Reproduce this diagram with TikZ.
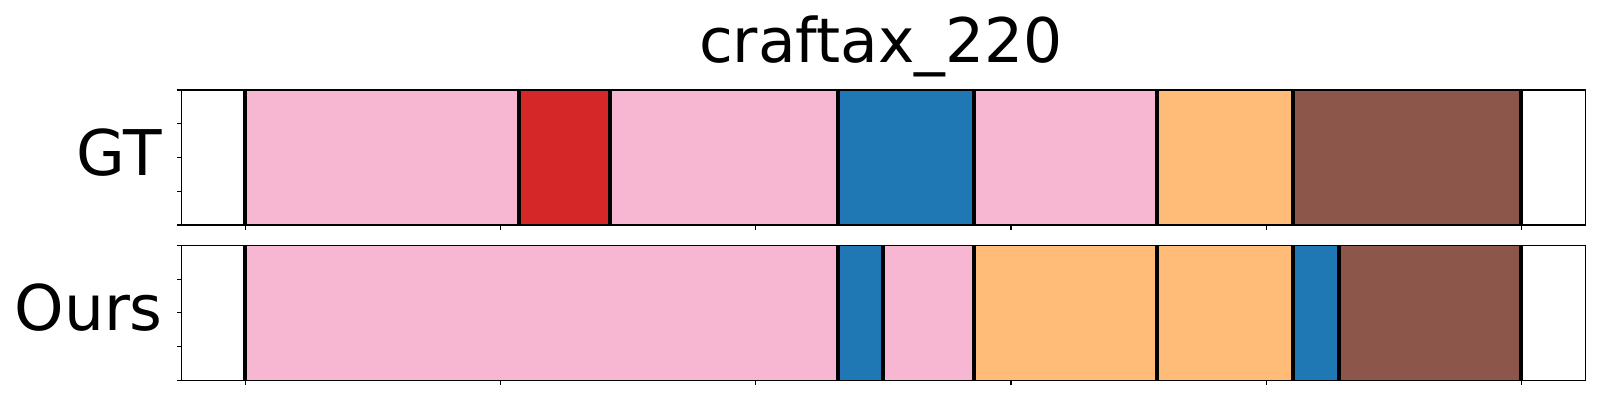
\documentclass[tikz,border=0pt]{standalone}
\usepackage{fontspec}
\setmainfont{DejaVu Sans}
\definecolor{cpink}{HTML}{F7B6D2}
\definecolor{cred}{HTML}{D62728}
\definecolor{cblue}{HTML}{1F77B4}
\definecolor{corange}{HTML}{FFBB78}
\definecolor{cbrown}{HTML}{8C564B}
\tikzset{
  seg/.style={fill=#1, draw=#1!85!black, line width=0.6pt},
  bound/.style={line width=4pt, black},
  spine/.style={line width=1.4pt, black},
  tick/.style={line width=1.1pt, black},
  lbl/.style={inner sep=0pt, anchor=base east, font=\fontsize{63}{70}\selectfont},
}
\begin{document}
\begin{tikzpicture}[x=1pt,y=-1pt]
\useasboundingbox (0,0) rectangle (1600,400);
% title
\node[inner sep=0pt, anchor=base, font=\fontsize{61.5}{70}\selectfont] (title) at (881,62) {craftax\_220};
% row labels
\node[lbl] (gt) at (162,175) {GT};
\node[lbl] (ours) at (163,330) {Ours};
% GT row (y 90..225)
\def\ta{90}\def\tb{225}
\fill[seg=cpink]   (244.7,\ta) rectangle (519,\tb);
\fill[seg=cred]    (519,\ta) rectangle (609.7,\tb);
\fill[seg=cpink]   (609.7,\ta) rectangle (837.7,\tb);
\fill[seg=cblue]   (837.7,\ta) rectangle (973.7,\tb);
\fill[seg=cpink]   (973.7,\ta) rectangle (1157,\tb);
\fill[seg=corange] (1157,\ta) rectangle (1293,\tb);
\fill[seg=cbrown]  (1293,\ta) rectangle (1520.7,\tb);
\foreach \x in {244.7,519,609.7,837.7,973.7,1157,1293,1520.7}
  \draw[bound] (\x,\ta) -- (\x,\tb);
\draw[spine] (181.3,\ta) rectangle (1585.7,\tb);
\foreach \y in {90,123.75,157.5,191.25,225}
  \draw[tick] (181.3,\y) -- (176.5,\y);
\foreach \x in {245.7,500.8,755.9,1011,1266.1,1521.2}
  \draw[tick] (\x,\tb) -- (\x,\tb+4.8);
% Ours row (y 245.3..380.3)
\def\ba{245.3}\def\bb{380.3}
\fill[seg=cpink]   (244.7,\ba) rectangle (837.7,\bb);
\fill[seg=cblue]   (837.7,\ba) rectangle (882.7,\bb);
\fill[seg=cpink]   (882.7,\ba) rectangle (973.7,\bb);
\fill[seg=corange] (973.7,\ba) rectangle (1157,\bb);
\fill[seg=corange] (1157,\ba) rectangle (1293,\bb);
\fill[seg=cblue]   (1293,\ba) rectangle (1338.7,\bb);
\fill[seg=cbrown]  (1338.7,\ba) rectangle (1520.7,\bb);
\foreach \x in {244.7,837.7,882.7,973.7,1157,1293,1338.7,1520.7}
  \draw[bound] (\x,\ba) -- (\x,\bb);
\draw[spine] (181.3,\ba) rectangle (1585.7,\bb);
\foreach \y in {245.3,279.05,312.8,346.55,380.3}
  \draw[tick] (181.3,\y) -- (176.5,\y);
\foreach \x in {245.7,500.8,755.9,1011,1266.1,1521.2}
  \draw[tick] (\x,\bb) -- (\x,\bb+4.8);
\end{tikzpicture}
\end{document}
